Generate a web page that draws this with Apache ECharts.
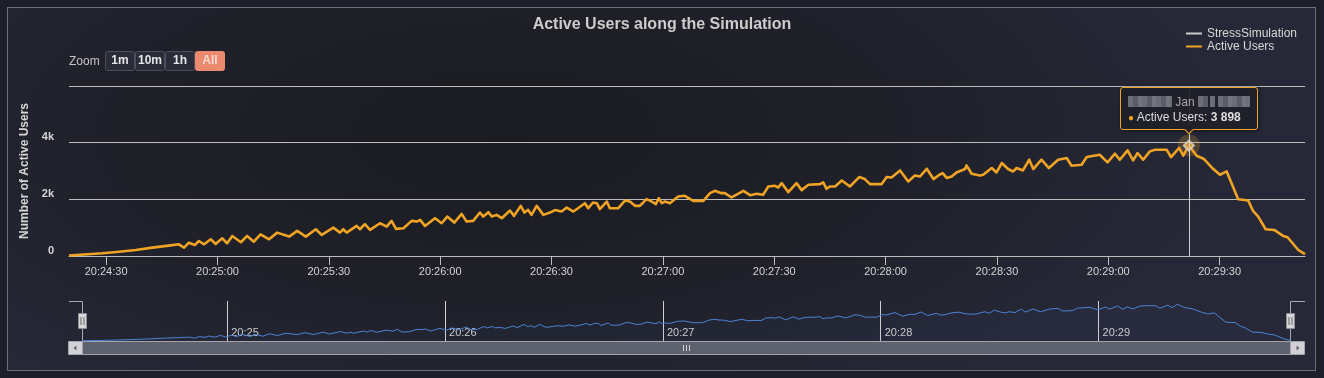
<!DOCTYPE html>
<html><head><meta charset="utf-8">
<script src="https://cdn.jsdelivr.net/npm/echarts@6/dist/echarts.min.js"></script>
<style>
html,body{margin:0;padding:0;background:#1e1f28;width:1324px;height:378px;overflow:hidden;}
#frame{position:absolute;left:7px;top:7px;width:1307px;height:362px;border:1px solid #6f6f7a;
background:radial-gradient(ellipse 55% 85% at 38% 35%, #1b1c21 0%, #1f2029 55%, #262837 100%);}
#chart{position:absolute;left:0;top:0;width:1324px;height:378px;}
.px{display:inline-block;height:11px;vertical-align:-1px;
background:repeating-linear-gradient(90deg,#6c6d77 0 5px,#5b5c67 5px 10px,#73747e 10px 14px);}
</style></head><body>
<div id="frame"></div>
<div id="chart"></div>
<script>
// ---- data ----
const startTime = '20:24:20';
const secs = [0, 9.0, 13.5, 18.0, 22.4, 26.9, 29.6, 31.0, 32.3, 33.9,
  35.0, 36.4, 38.2, 39.5, 41.3, 42.6, 44.0, 46.3, 48.0, 49.8,
  51.6, 53.9, 56.1, 59.3, 61.5, 63.8, 66.5, 68.1, 71.2, 73.0,
  73.9, 74.8, 77.5, 78.4, 79.7, 81.1, 83.8, 85.6, 86.9, 88.1,
  90.1, 92.3, 93.7, 94.6, 95.9, 98.6, 100.4, 101.9, 103.8, 105.8,
  107.1, 108.9, 110.7, 111.6, 113.0, 113.9, 115.2, 116.6, 118.8, 119.9,
  121.7, 122.7, 123.7, 124.6, 126.0, 127.8, 129.6, 130.9, 132.7, 134.1,
  135.9, 139.0, 139.9, 141.2, 142.2, 143.0, 144.9, 145.7, 148.0, 149.8,
  151.1, 152.5, 153.8, 155.6, 157.0, 158.1, 158.9, 159.7, 160.6, 161.9,
  164.1, 165.9, 168.2, 170.9, 172.7, 174.0, 175.8, 176.7, 178.5, 181.7,
  183.5, 185.3, 187.0, 188.4, 190.2, 191.1, 192.0, 193.8, 196.0, 197.4,
  199.2, 202.3, 203.2, 204.1, 205.0, 206.4, 208.2, 210.4, 212.9, 214.4,
  215.8, 218.9, 220.3, 221.6, 223.9, 226.1, 227.9, 229.3, 231.1, 232.9,
  234.5, 235.4, 236.5, 237.8, 239.1, 241.4, 241.8, 243.2, 245.4, 246.3,
  248.6, 249.9, 251.3, 253.0, 254.4, 255.3, 257.0, 258.7, 259.8, 262.0,
  264.0, 266.5, 268.8, 270.1, 272.8, 274.2, 277.7, 279.8, 281.8, 283.1,
  285.2, 286.7, 287.9, 289.4, 291.2, 292.6, 295.7, 296.9, 299.1, 300.2,
  301.7, 303.8, 305.8, 308.3, 310.1, 311.9, 315.0, 317.7, 319.0, 320.4,
  322.4, 324.7, 327.1, 328.3, 331.2, 333.0];
const users = [20, 95, 150, 212, 295, 365, 413, 295, 470, 390,
  530, 413, 590, 425, 625, 450, 708, 485, 708, 505,
  767, 590, 825, 685, 885, 685, 945, 743, 1002, 825,
  945, 825, 1062, 945, 1122, 920, 1157, 1037, 1239, 956,
  980, 1239, 1215, 1274, 1062, 1334, 1157, 1392, 1180, 1487,
  1215, 1239, 1534, 1392, 1546, 1392, 1451, 1334, 1605, 1416,
  1770, 1534, 1628, 1451, 1770, 1451, 1534, 1620, 1569, 1711,
  1569, 1864, 1687, 1888, 1864, 1652, 1923, 1687, 1687, 1958,
  1923, 1770, 1770, 2006, 1923, 1829, 2041, 1864, 1923, 1864,
  2100, 2124, 1947, 1947, 2218, 2301, 2218, 2218, 2065, 2301,
  2147, 2195, 2159, 2453, 2478, 2418, 2572, 2254, 2572, 2325,
  2513, 2536, 2595, 2372, 2453, 2453, 2666, 2453, 2786, 2715,
  2536, 2536, 2786, 2772, 3020, 2630, 2843, 2807, 3080, 2715,
  2867, 2927, 2751, 2807, 2949, 3069, 3197, 2903, 2843, 2867,
  3105, 2949, 3282, 3069, 2984, 3105, 3020, 3398, 3069, 3398,
  3105, 3398, 3458, 3186, 3221, 3493, 3575, 3304, 3611, 3398,
  3728, 3374, 3634, 3398, 3693, 3752, 3752, 3493, 3812, 3540,
  3898, 3540, 3422, 3069, 2867, 2984, 2006, 1958, 1593, 1392,
  945, 920, 708, 661, 212, 70];
const xTickLabels = ['20:24:30','20:25:00','20:25:30','20:26:00','20:26:30','20:27:00',
  '20:27:30','20:28:00','20:28:30','20:29:00','20:29:30'];
const navTickLabels = ['20:25','20:26','20:27','20:28','20:29'];
const yTickValues = [0, 2000, 4000];
const zoomButtons = ['1m','10m','1h','All'];
const hoverIndex = 170;
const seriesNames = ['StressSimulation','Active Users'];

// ---- helpers ----
const toSec = s => { const p = s.split(':').map(Number); return p[0]*3600 + p[1]*60 + (p[2]||0); };
const pad = n => String(n).padStart(2,'0');
const fmtHMS = v => { v = Math.round(v); return pad(Math.floor(v/3600)) + ':' + pad(Math.floor(v%3600/60)) + ':' + pad(v%60); };
const fmtHM = v => { v = Math.round(v); return pad(Math.floor(v/3600)) + ':' + pad(Math.floor(v%3600/60)); };
const BASE = toSec(startTime);
const points = secs.map((s,i) => [BASE + s, users[i]]);
const xMin = points[0][0], xMax = points[points.length-1][0];
const hoverPt = points[hoverIndex];
const FONT = '"Liberation Sans", Arial, Helvetica, sans-serif';
const LINE = '#f0a324';
const GRID = '#bdbdbd';
const TXT = '#d4d4d4';

const chart = echarts.init(document.getElementById('chart'), null, {renderer:'canvas'});

const graphics = [];
graphics.push({type:'text', x:69, y:61.5, style:{text:'Zoom', fill:'#c4c4c4', font:'12px ' + FONT, verticalAlign:'middle', align:'left'}});
zoomButtons.forEach((b,i) => {
  const sel = b === 'All';
  graphics.push({type:'rect', shape:{x:105.5 + i*30, y:51.5, width:29, height:19, r:2},
    style:{fill: sel ? '#eb8a6e' : '#2a2c3a', stroke: sel ? '#eb8a6e' : '#4b4e5c', lineWidth:1}});
  graphics.push({type:'text', x:120 + i*30, y:60.5, style:{text:b, fill: sel ? '#f7d9d1' : '#e6e6e6',
    font:'bold 12px ' + FONT, align:'center', verticalAlign:'middle'}});
});
// navigator outline and handles
graphics.push({type:'polyline', shape:{points:[[69,301.5],[82.5,301.5],[82.5,341]]}, style:{stroke:'#a8a8b0', fill:null, lineWidth:1}});
graphics.push({type:'polyline', shape:{points:[[1305,301.5],[1290.5,301.5],[1290.5,341]]}, style:{stroke:'#a8a8b0', fill:null, lineWidth:1}});
[82.5, 1290.5].forEach(hx => {
  graphics.push({type:'rect', shape:{x:hx-4, y:313.5, width:8, height:15}, style:{fill:'#d6d6da', stroke:'#8e8e96', lineWidth:1}});
  graphics.push({type:'line', shape:{x1:hx-1.5, y1:317, x2:hx-1.5, y2:325}, style:{stroke:'#666', lineWidth:1}});
  graphics.push({type:'line', shape:{x1:hx+1.5, y1:317, x2:hx+1.5, y2:325}, style:{stroke:'#666', lineWidth:1}});
});
// scrollbar
graphics.push({type:'rect', shape:{x:82.5, y:341.5, width:1208, height:13}, style:{fill:'#5e616e', stroke:'#a4a4ab', lineWidth:1}});
graphics.push({type:'rect', shape:{x:68.5, y:341.5, width:14, height:13}, style:{fill:'#d2d2d6', stroke:'#a4a4ab', lineWidth:1}});
graphics.push({type:'rect', shape:{x:1290.5, y:341.5, width:14, height:13}, style:{fill:'#d2d2d6', stroke:'#a4a4ab', lineWidth:1}});
graphics.push({type:'polygon', shape:{points:[[73.5,348],[76.5,345.5],[76.5,350.5]]}, style:{fill:'#666'}});
graphics.push({type:'polygon', shape:{points:[[1299.5,348],[1296.5,345.5],[1296.5,350.5]]}, style:{fill:'#666'}});
[683.5, 686.5, 689.5].forEach(gx => graphics.push({type:'line', shape:{x1:gx, y1:345, x2:gx, y2:351}, style:{stroke:'#cfcfcf', lineWidth:1}}));

const option = {
  animation: false,
  textStyle: {fontFamily: FONT},
  title: {text:'Active Users along the Simulation', left:'center', top:11,
    textStyle:{color:'#cccccc', fontSize:16, fontWeight:'bold', lineHeight:18, fontFamily:FONT}},
  legend: {data: seriesNames, orient:'vertical', right:22, top:22, icon:'rect', itemWidth:16, itemHeight:2,
    itemGap:0, align:'left', selectedMode:false,
    textStyle:{color:'#d8d8d8', fontSize:12, lineHeight:13, fontFamily:FONT}},
  grid: [
    {left:69, right:19, top:86, bottom:122, containLabel:false, outerBoundsMode:'none'},
    {left:82, right:33, top:301, bottom:37, containLabel:false, outerBoundsMode:'none'}
  ],
  tooltip: {trigger:'item', triggerOn:'none', alwaysShowContent:true, position:'top', transitionDuration:0,
    backgroundColor:'rgba(30,31,40,0.92)', borderColor:LINE, borderWidth:1, padding:[7,7,4,7],
    textStyle:{color:'#dddddd', fontSize:12, fontFamily:FONT},
    extraCssText:'box-shadow:1px 1px 4px rgba(0,0,0,0.5);border-radius:3px;',
    formatter: p => {
      const v = String(p.value[1]).replace(/\B(?=(\d{3})+(?!\d))/g, ' ');
      return '<div style="line-height:15px;white-space:nowrap;color:#a8a8ae">' +
        '<span class="px" style="width:44px"></span> Jan <span class="px" style="width:10px"></span>' +
        '<span class="px" style="width:5px;margin-left:2px"></span> <span class="px" style="width:32px"></span></div>' +
        '<div style="line-height:15px;white-space:nowrap"><span style="color:' + LINE + ';font-size:10px">\u25CF</span> Active Users: <b>' + v + '</b></div>';
    }},
  xAxis: [
    {type:'value', gridIndex:0, min:xMin, max:xMax, splitLine:{show:false},
      axisLine:{show:true, lineStyle:{color:GRID, width:1}},
      axisTick:{show:true, customValues: xTickLabels.map(toSec), length:9, lineStyle:{color:GRID}},
      axisLabel:{customValues: xTickLabels.map(toSec), formatter: fmtHMS, color:TXT, fontSize:11, margin:10, fontFamily:FONT}},
    {type:'value', gridIndex:1, min:xMin, max:xMax, splitLine:{show:false}, axisLine:{show:false},
      axisTick:{show:true, inside:true, length:40, customValues: navTickLabels.map(toSec), lineStyle:{color:'#d0d0d0'}},
      axisLabel:{inside:true, customValues: navTickLabels.map(toSec), formatter: fmtHM, color:'#cfcfcf', fontSize:11,
        align:'left', padding:[0,0,0,4], margin:3, verticalAlign:'bottom', fontFamily:FONT}}
  ],
  yAxis: [
    {type:'value', gridIndex:0, min:0, max:6000, interval:2000,
      name:'Number of Active Users', nameLocation:'middle', nameGap:33,
      nameTextStyle:{color:TXT, fontWeight:'bold', fontSize:12, fontFamily:FONT},
      axisLine:{show:false}, axisTick:{show:false},
      splitLine:{show:true, lineStyle:{color:GRID, width:1}},
      axisLabel:{customValues: yTickValues, formatter: v => v === 0 ? '0' : (v/1000) + 'k',
        color:TXT, fontWeight:'bold', fontSize:11, margin:15, verticalAlign:'bottom', fontFamily:FONT}},
    {type:'value', gridIndex:1, min:0, max:4250, show:false}
  ],
  graphic: graphics,
  series: [
    {name:seriesNames[0], type:'line', xAxisIndex:0, yAxisIndex:0, data:[], color:'#cccccc', itemStyle:{color:'#cccccc'}},
    {name:seriesNames[1], type:'line', xAxisIndex:0, yAxisIndex:0, data:points, showSymbol:false, symbol:'none',
      color:LINE, itemStyle:{color:LINE}, lineStyle:{color:LINE, width:2.6, join:'round'}, silent:true, z:2,
      markLine:{silent:true, symbol:['none','none'], label:{show:false}, animation:false,
        lineStyle:{color:'#d0d0d0', width:1, type:'solid'}, data:[{xAxis: hoverPt[0]}]}},
    {name:'navigator', type:'line', xAxisIndex:1, yAxisIndex:1, data:points, showSymbol:false, symbol:'none', silent:true,
      lineStyle:{color:'#4d84d6', width:1}, areaStyle:{color:'rgba(77,132,214,0.05)'}, tooltip:{show:false}},
    {name:'halo', type:'scatter', xAxisIndex:0, yAxisIndex:0, data:[hoverPt], symbolSize:22, silent:true,
      itemStyle:{color:'rgba(240,163,36,0.28)'}, z:3, tooltip:{show:false}},
    {name:'marker', type:'scatter', xAxisIndex:0, yAxisIndex:0, data:[hoverPt], symbol:'diamond', symbolSize:10,
      itemStyle:{color:LINE, borderColor:'#d8d8d8', borderWidth:2}, z:4}
  ]
};
chart.setOption(option);
chart.dispatchAction({type:'showTip', seriesIndex:4, dataIndex:0});
</script>
</body></html>
